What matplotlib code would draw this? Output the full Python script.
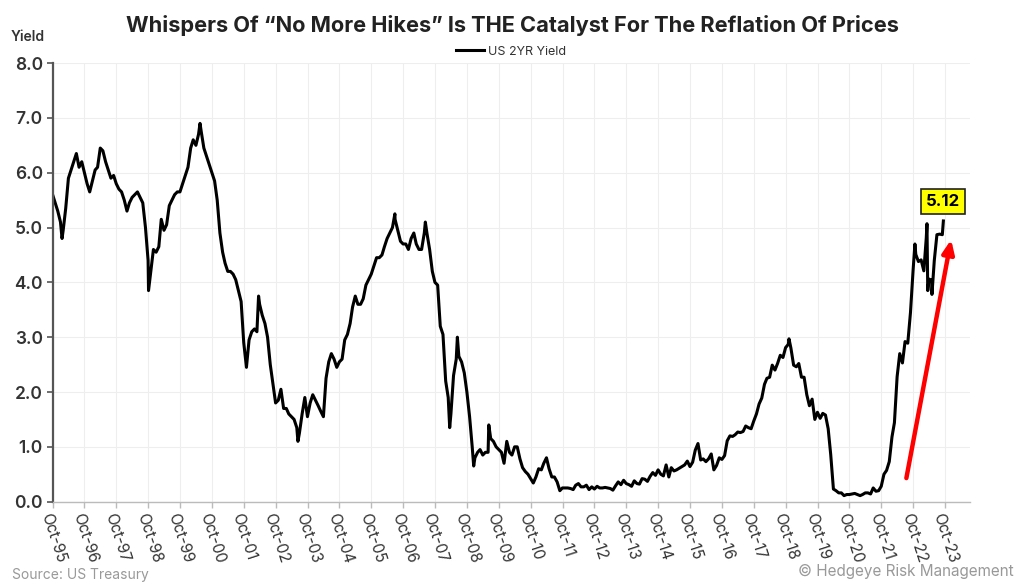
import matplotlib
matplotlib.use("Agg")
import matplotlib.pyplot as plt
import pandas as pd
import numpy as np

# ---- data (US 2YR yield, monthly, Oct-95 .. Aug-23) ----
y1995 = [5.45, 5.3, 5.1]
y1996 = [4.95, 5.35, 5.9, 6.05, 6.2, 6.35, 6.1, 6.2, 6.0, 5.8, 5.65, 5.85]
y1997 = [6.05, 6.1, 6.45, 6.4, 6.2, 6.05, 5.9, 5.95, 5.8, 5.7, 5.65, 5.5]
y1998 = [5.3, 5.45, 5.55, 5.6, 5.65, 5.55, 5.45, 5.0, 4.4, 4.2, 4.6, 4.55]
y1999 = [4.65, 5.15, 4.95, 5.05, 5.4, 5.5, 5.6, 5.65, 5.65, 5.8, 5.95, 6.1]
y2000 = [6.45, 6.6, 6.5, 6.7, 6.75, 6.45, 6.3, 6.15, 6.0, 5.85, 5.5, 4.9]
y2001 = [4.55, 4.35, 4.2, 4.2, 4.15, 4.05, 3.85, 3.65, 2.9, 2.45, 2.95, 3.1]
y2002 = [3.15, 3.1, 3.6, 3.4, 3.25, 3.0, 2.5, 2.15, 1.8, 1.85, 2.05, 1.7]
y2003 = [1.7, 1.6, 1.55, 1.5, 1.35, 1.25, 1.6, 1.9, 1.55, 1.8, 1.95, 1.85]
y2004 = [1.75, 1.65, 1.55, 2.25, 2.55, 2.7, 2.6, 2.45, 2.55, 2.6, 2.95, 3.05]
y2005 = [3.25, 3.55, 3.75, 3.6, 3.6, 3.7, 3.95, 4.05, 4.15, 4.3, 4.45, 4.45]
y2006 = [4.5, 4.65, 4.8, 4.9, 5.0, 5.15, 4.95, 4.75, 4.7, 4.7, 4.6, 4.8]
y2007 = [4.9, 4.7, 4.6, 4.6, 4.9, 4.9, 4.6, 4.2, 4.0, 3.95, 3.2, 3.05]
y2008 = [2.2, 1.9, 1.6, 2.3, 2.6, 2.65, 2.55, 2.35, 2.0, 1.55, 1.0, 0.8]
y2009 = [0.9, 0.95, 0.85, 0.9, 0.9, 1.15, 1.1, 1.0, 0.95, 0.9, 0.7, 1.1]
y2010 = [0.9, 0.85, 1.0, 1.0, 0.78, 0.62, 0.55, 0.5, 0.42, 0.34, 0.45, 0.6]
y2011 = [0.58, 0.7, 0.8, 0.6, 0.45, 0.45, 0.36, 0.2, 0.25, 0.25, 0.25, 0.24]
y2012 = [0.22, 0.3, 0.33, 0.27, 0.27, 0.3, 0.22, 0.27, 0.23, 0.28, 0.25, 0.25]
y2013 = [0.26, 0.25, 0.24, 0.21, 0.29, 0.36, 0.31, 0.39, 0.33, 0.31, 0.28, 0.38]
y2014 = [0.33, 0.32, 0.42, 0.41, 0.37, 0.46, 0.53, 0.48, 0.58, 0.5, 0.47, 0.67]
y2015 = [0.45, 0.62, 0.56, 0.58, 0.61, 0.64, 0.67, 0.74, 0.64, 0.72, 0.94, 1.06]
y2016 = [0.76, 0.78, 0.73, 0.78, 0.87, 0.58, 0.66, 0.8, 0.77, 0.84, 1.11, 1.2]
y2017 = [1.19, 1.22, 1.27, 1.26, 1.28, 1.38, 1.35, 1.33, 1.47, 1.6, 1.78, 1.89]
y2018 = [2.14, 2.25, 2.27, 2.49, 2.4, 2.52, 2.67, 2.63, 2.81, 2.87, 2.8, 2.49]
y2019 = [2.46, 2.52, 2.27, 2.27, 1.95, 1.75, 1.87, 1.5, 1.63, 1.52, 1.61, 1.58]
y2020 = [1.33, 0.86, 0.23, 0.2, 0.16, 0.16, 0.11, 0.13, 0.13, 0.14, 0.15, 0.13]
y2021 = [0.11, 0.13, 0.16, 0.16, 0.14, 0.25, 0.19, 0.2, 0.28, 0.5, 0.57, 0.73]
y2022 = [1.18, 1.44, 2.28, 2.7, 2.53, 2.92, 2.89, 3.45, 4.22, 4.51, 4.38, 4.41]
y2023 = [4.21, 4.81, 4.06, 4.04, 4.4, 4.87, 4.88, 4.87]

# intra-month extremes visible on the chart
extra_dates = ["1995-10-02", "1996-01-18", "1998-10-05", "2000-05-17", "2002-03-19",
               "2003-06-13", "2006-06-28", "2007-06-12", "2008-03-17", "2008-06-13",
               "2008-12-17", "2009-06-08", "2018-11-08", "2022-10-21", "2023-03-08",
               "2023-03-17", "2023-05-04", "2023-09-12"]
extra_values = [5.6, 4.8, 3.85, 6.9, 3.75, 1.1, 5.25, 5.1, 1.35, 3.0,
                0.65, 1.4, 2.97, 4.7, 5.07, 3.85, 3.78, 5.12]

tick_years = list(range(1995, 2024))
tick_labels = ["Oct-%02d" % (y % 100) for y in tick_years]
series_label = "US 2YR Yield"
last_label = "5.12"

monthly = (y1995 + y1996 + y1997 + y1998 + y1999 + y2000 + y2001 + y2002 + y2003 +
           y2004 + y2005 + y2006 + y2007 + y2008 + y2009 + y2010 + y2011 + y2012 +
           y2013 + y2014 + y2015 + y2016 + y2017 + y2018 + y2019 + y2020 + y2021 +
           y2022 + y2023)
month_idx = pd.date_range("1995-10-31", periods=len(monthly), freq=pd.offsets.MonthEnd())
s = pd.concat([pd.Series(monthly, index=month_idx),
               pd.Series(extra_values, index=pd.to_datetime(extra_dates))]).sort_index()

# ---- figure ----
plt.rcParams['font.family'] = ['Inter', 'DejaVu Sans']
fig = plt.figure(figsize=(10.24, 5.84), dpi=100)
ax = fig.add_axes([0.0513, 0.141, 0.8957, 0.751])

ax.plot(s.index, s.values, color="black", lw=2.2, label=series_label, solid_joinstyle="round")

ax.set_ylim(0, 8)
ax.set_yticks(np.arange(0, 8.1, 1.0))
ax.set_yticklabels(["%.1f" % v for v in np.arange(0, 8.1, 1.0)],
                   fontsize=12.5, fontweight="semibold", color="#333333")

xticks = [pd.Timestamp("%d-10-01" % y) for y in tick_years]
ax.set_xticks(xticks)
ax.set_xticklabels(tick_labels, rotation=-72, ha="left", va="top",
                   rotation_mode="anchor", fontsize=11, color="#333333")
ax.set_xlim(pd.Timestamp("1995-10-01"), pd.Timestamp("2024-07-10"))

ax.grid(True, color="#eeeeee", lw=0.8)
ax.set_axisbelow(True)
for sp in ["top", "right"]:
    ax.spines[sp].set_visible(False)
ax.spines["left"].set_color("#555555")
ax.spines["left"].set_linewidth(1.6)
ax.spines["bottom"].set_color("#bbbbbb")
ax.spines["bottom"].set_linewidth(1.0)
ax.tick_params(axis="y", length=4, width=1.2, color="#555555", pad=3)
ax.tick_params(axis="x", length=4, width=1.0, color="#bbbbbb", pad=3)

# title, labels
fig.text(0.5, 0.957, "Whispers Of \u201cNo More Hikes\u201d Is THE Catalyst For The Reflation Of Prices",
         ha="center", va="center", fontsize=15.7, fontweight="bold", color="#222222")
fig.text(0.010, 0.937, "Yield", ha="left", va="center", fontsize=10,
         fontweight="semibold", color="#333333")
ax.legend(loc="center", bbox_to_anchor=(0.5, 1.026), frameon=False,
          fontsize=9, handlelength=2.2, handletextpad=0.3, labelcolor="#333333")

fig.text(0.012, 0.016, "Source: US Treasury", ha="left", va="center",
         fontsize=10, color="#999999")
fig.text(0.99, 0.022, "\u00a9 Hedgeye Risk Management", ha="right", va="center",
         fontsize=11, color="#999999")

# latest value label
ax.text(pd.Timestamp("2023-09-05"), 5.47, last_label, ha="center", va="center",
        fontsize=12, fontweight="bold", color="black",
        bbox=dict(boxstyle="square,pad=0.3", fc="#ffff00", ec="#222222", lw=1.2))

# red arrow
ax.annotate("", xy=(pd.Timestamp("2023-12-10"), 4.78), xytext=(pd.Timestamp("2022-07-15"), 0.43),
            arrowprops=dict(arrowstyle="-|>,head_length=0.8,head_width=0.35",
                            color="#ff0000", lw=3.2, shrinkA=0, shrinkB=0))

fig.savefig("out.png", dpi=100)
